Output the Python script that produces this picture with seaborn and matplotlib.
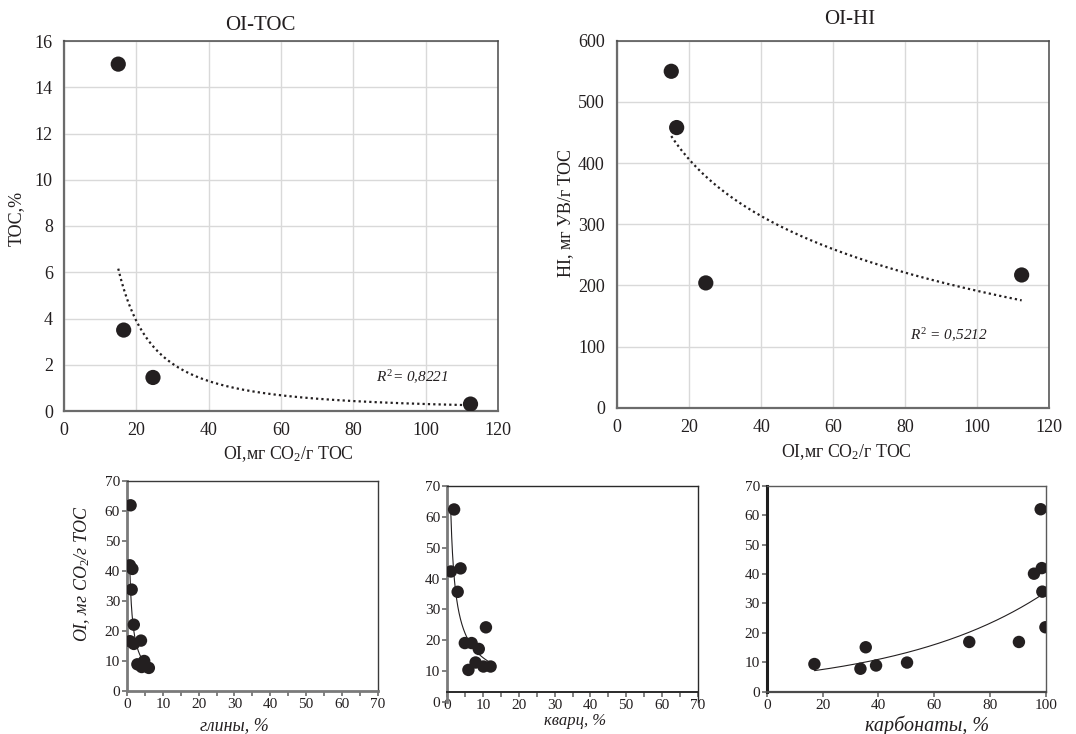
import numpy as np
import pandas as pd
import matplotlib
matplotlib.use("Agg")
import matplotlib.pyplot as plt
from matplotlib.ticker import MultipleLocator
import seaborn as sns

# ---------------- data ----------------
oi_top = [15.0, 16.5, 24.6, 112.4]
toc = [15.0, 3.5, 1.45, 0.3]
hi = [550, 458, 204, 217]
r2_toc = "0,8221"
r2_hi = "0,5212"

clay = [1.0, 0.8, 1.5, 1.3, 1.9, 0.8, 1.9, 3.9, 2.9, 4.1, 4.8, 6.1]
oi_clay = [61.9, 41.9, 40.7, 33.8, 22.1, 16.6, 15.7, 16.8, 8.9, 8.0, 10.0, 7.7]
quartz = [1.9, 1.0, 3.7, 2.9, 10.8, 4.9, 6.8, 8.8, 7.9, 5.9, 10.1, 12.1]
oi_quartz = [62.4, 42.3, 43.3, 35.7, 24.2, 19.1, 19.1, 17.2, 12.8, 10.4, 11.5, 11.5]
carb = [17.1, 33.6, 35.5, 39.2, 50.3, 72.6, 90.4, 95.8, 98.6, 98.2, 98.8, 99.9]
oi_carb = [9.4, 7.8, 15.1, 8.9, 9.9, 16.9, 16.9, 40.1, 42.0, 62.0, 34.0, 21.9]

# ---------------- style ----------------
sns.set_theme(style="white")
plt.rcParams["font.family"] = ["Liberation Serif", "DejaVu Serif"]
plt.rcParams["mathtext.fontset"] = "custom"
plt.rcParams["mathtext.rm"] = "Liberation Serif"
plt.rcParams["mathtext.it"] = "Liberation Serif:italic"
plt.rcParams["text.color"] = "#231f20"

INK = "#231f20"
W, H = 1076, 734
fig = plt.figure(figsize=(W / 100, H / 100), dpi=100)


def add_ax(x0, x1, ytop, ybot):
    return fig.add_axes([x0 / W, 1 - ybot / H, (x1 - x0) / W, (ybot - ytop) / H])


def fit_line(x, y, kind, n=200):
    x = np.asarray(x, float)
    y = np.asarray(y, float)
    xs = np.linspace(x.min(), x.max(), n)
    if kind == "power":
        b, a = np.polyfit(np.log(x), np.log(y), 1)
        ys = np.exp(a) * xs ** b
    elif kind == "log":
        b, a = np.polyfit(np.log(x), y, 1)
        ys = a + b * np.log(xs)
    else:  # exponential
        b, a = np.polyfit(x, np.log(y), 1)
        ys = np.exp(a + b * xs)
    return pd.DataFrame({"x": xs, "y": ys})


# ---------------- top panels ----------------
def style_top(ax, xmax, ymax, ystep):
    ax.set_xlim(0, xmax)
    ax.set_ylim(0, ymax)
    ax.xaxis.set_major_locator(MultipleLocator(20))
    ax.yaxis.set_major_locator(MultipleLocator(ystep))
    ax.grid(True, color="#d9d9d9", lw=1.0)
    ax.set_axisbelow(True)
    for side in ["left", "bottom"]:
        ax.spines[side].set_color("#6b6b6b")
        ax.spines[side].set_linewidth(1.6)
    for side in ["top", "right"]:
        ax.spines[side].set_color("#4a4a4a")
        ax.spines[side].set_linewidth(1.1)
    ax.tick_params(axis="both", length=0, labelsize=13, colors=INK)
    ax.tick_params(axis="y", pad=8)
    ax.tick_params(axis="x", pad=8)


ax1 = add_ax(64, 498, 41, 411)
sns.scatterplot(x=oi_top, y=toc, ax=ax1, s=120, color=INK, edgecolor="none",
                legend=False, zorder=3)
d = fit_line(oi_top, toc, "power")
sns.lineplot(data=d, x="x", y="y", ax=ax1, color=INK, lw=1.6,
             linestyle=(0, (1, 1.4)), estimator=None, sort=False, zorder=2)
style_top(ax1, 120, 16, 2)
ax1.set_title("OI-TOC", fontsize=15, x=0.453, pad=8, color=INK)
ax1.set_xlabel(r"OI,мг CO$_2$/г TOC", fontsize=12.8, color=INK)
ax1.set_ylabel("TOC,%", fontsize=13, color=INK)
ax1.xaxis.set_label_coords(0.516, -0.09)
ax1.yaxis.set_label_coords(-0.09, 0.52)
ax1.text(96.2, 1.45, r"$R^2$= " + r2_toc, fontsize=11, style="italic",
         ha="center", va="center", color=INK)

ax2 = add_ax(617.3, 1049, 40.7, 407.7)
sns.scatterplot(x=oi_top, y=hi, ax=ax2, s=120, color=INK, edgecolor="none",
                legend=False, zorder=3)
d = fit_line(oi_top, hi, "log")
sns.lineplot(data=d, x="x", y="y", ax=ax2, color=INK, lw=1.6,
             linestyle=(0, (1, 1.4)), estimator=None, sort=False, zorder=2)
style_top(ax2, 120, 600, 100)
ax2.tick_params(axis="y", pad=9)
ax2.set_title("OI-HI", fontsize=15, x=0.539, pad=12, color=INK)
ax2.set_xlabel(r"OI,мг CO$_2$/г TOC", fontsize=12.8, color=INK)
ax2.set_ylabel("HI, мг УВ/г TOC", fontsize=13, color=INK)
ax2.xaxis.set_label_coords(0.531, -0.095)
ax2.yaxis.set_label_coords(-0.1, 0.53)
ax2.text(92.2, 119, r"$R^2$ = " + r2_hi, fontsize=11, style="italic",
         ha="center", va="center", color=INK)


# ---------------- bottom panels ----------------
def style_bottom(ax, xmax, xmajor, xminor):
    ax.set_xlim(0, xmax)
    ax.set_ylim(0, 70)
    ax.xaxis.set_major_locator(MultipleLocator(xmajor))
    if xminor:
        ax.xaxis.set_minor_locator(MultipleLocator(xminor))
    ax.yaxis.set_major_locator(MultipleLocator(10))
    ax.grid(False)
    ax.tick_params(axis="both", which="both", direction="out", length=3.5,
                   width=1.2, color="#6b6b6b", labelsize=11, pad=1.5,
                   labelcolor=INK)
    ax.tick_params(axis="x", which="both", bottom=True)
    ax.tick_params(axis="y", which="both", left=True)


# clay
ax3 = add_ax(127, 377.7, 481, 691)
sns.scatterplot(x=clay, y=oi_clay, ax=ax3, s=80, color=INK, edgecolor="none",
                legend=False, zorder=3)
d = fit_line(clay, oi_clay, "power")
sns.lineplot(data=d, x="x", y="y", ax=ax3, color=INK, lw=0.8,
             estimator=None, sort=False, zorder=4)
style_bottom(ax3, 70, 10, 5)
for side in ["left", "bottom"]:
    ax3.spines[side].set_color("#7a7a7a")
    ax3.spines[side].set_linewidth(2.0)
for side in ["top", "right"]:
    ax3.spines[side].set_color("#3a3a3a")
    ax3.spines[side].set_linewidth(1.0)
ax3.set_xlabel("глины, %", fontsize=13, style="italic", color=INK)
ax3.set_ylabel(r"OI, мг CO$_\mathit{2}$/г TOC", fontsize=13, style="italic",
               color=INK)
ax3.xaxis.set_label_coords(0.43, -0.125)
ax3.yaxis.set_label_coords(-0.14, 0.56)

# quartz
ax4 = add_ax(447.3, 697.7, 486, 702)
sns.scatterplot(x=quartz, y=oi_quartz, ax=ax4, s=80, color=INK,
                edgecolor="none", legend=False, zorder=3)
d = fit_line(quartz, oi_quartz, "power")
sns.lineplot(data=d, x="x", y="y", ax=ax4, color=INK, lw=0.8,
             estimator=None, sort=False, zorder=4)
style_bottom(ax4, 70, 10, 5)
ax4.spines["bottom"].set_position(("data", 3.2))
ax4.spines["left"].set_color("#7a7a7a")
ax4.spines["left"].set_linewidth(2.0)
ax4.spines["bottom"].set_color("#2a2a2a")
ax4.spines["bottom"].set_linewidth(1.4)
for side in ["top", "right"]:
    ax4.spines[side].set_color("#2a2a2a")
    ax4.spines[side].set_linewidth(1.0)
ax4.set_xlabel("кварц, %", fontsize=12, style="italic", color=INK)
ax4.xaxis.set_label_coords(0.512, -0.05)

# carbonates
ax5 = add_ax(766.7, 1045.7, 485.7, 691.7)
sns.scatterplot(x=carb, y=oi_carb, ax=ax5, s=80, color=INK, edgecolor="none",
                legend=False, zorder=3)
d = fit_line(carb, oi_carb, "exp")
sns.lineplot(data=d, x="x", y="y", ax=ax5, color=INK, lw=0.8,
             estimator=None, sort=False, zorder=4)
style_bottom(ax5, 100, 20, None)
ax5.spines["left"].set_color("#1e1e1e")
ax5.spines["left"].set_linewidth(2.2)
ax5.spines["bottom"].set_color("#4a4a4a")
ax5.spines["bottom"].set_linewidth(1.6)
for side in ["top", "right"]:
    ax5.spines[side].set_color("#5a5a5a")
    ax5.spines[side].set_linewidth(1.0)
ax5.set_xlabel("карбонаты, %", fontsize=14.5, style="italic", color=INK)
ax5.xaxis.set_label_coords(0.573, -0.115)

for ax in (ax4, ax5):
    ax.set_ylabel("")

fig.savefig("out.png", dpi=100)
